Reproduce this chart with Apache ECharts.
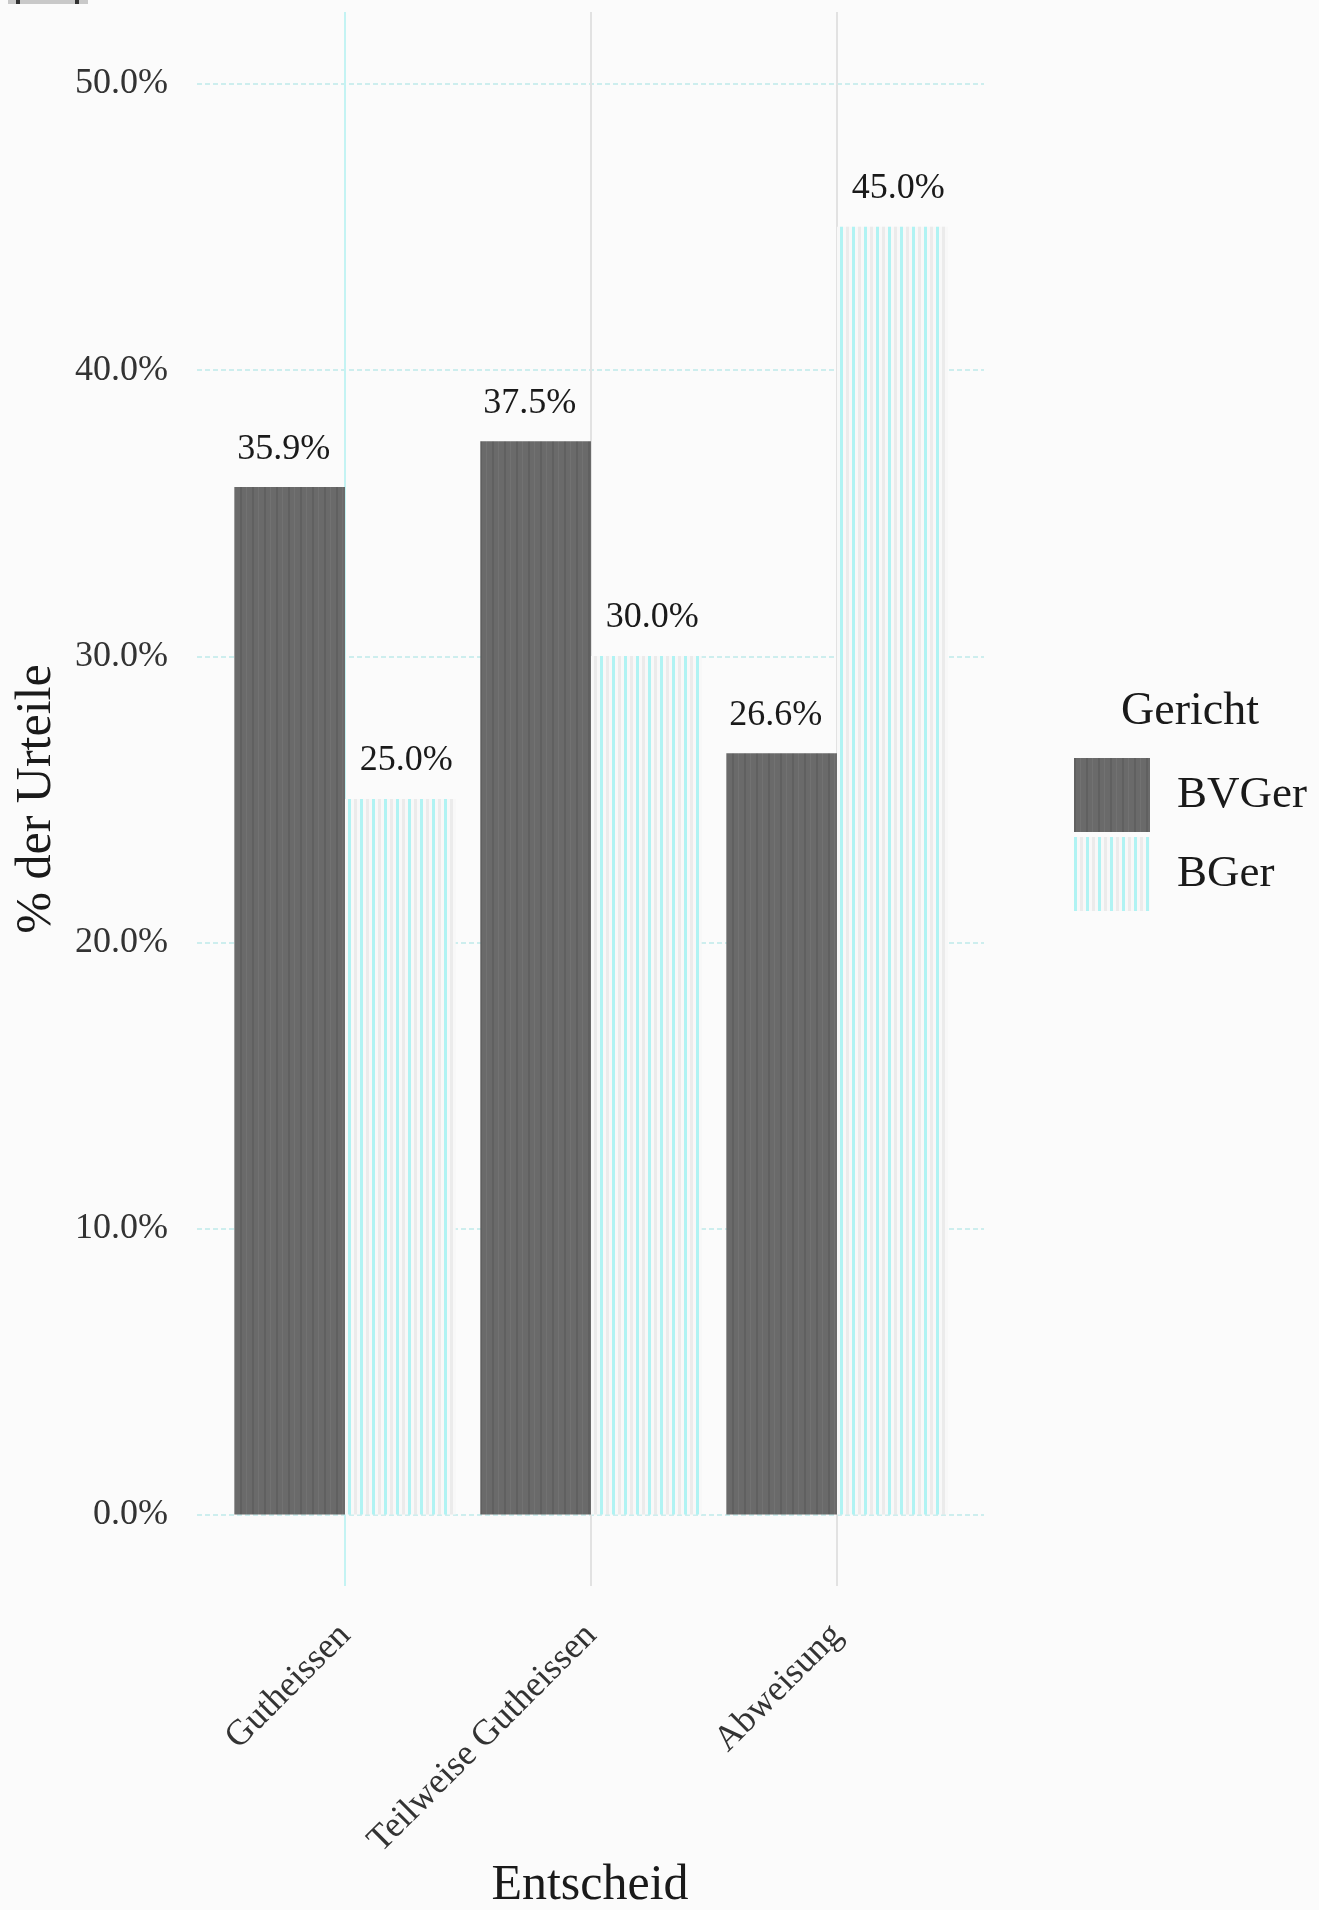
<!DOCTYPE html>
<html>
<head>
<meta charset="utf-8">
<script src="https://cdn.jsdelivr.net/npm/echarts@6/dist/echarts.min.js"></script>
<style>
  html, body { margin: 0; padding: 0; background: #fbfbfb; }
  #chart { width: 1319px; height: 1910px; }
</style>
</head>
<body>
<div id="chart"></div>
<script>
// ---- data ----
const categories = ['Gutheissen', 'Teilweise Gutheissen', 'Abweisung'];
const seriesNames = ['BVGer', 'BGer'];
const bvgerValues = [35.9, 37.5, 26.6];
const bgerValues = [25.0, 30.0, 45.0];
const yTickMin = 0, yTickMax = 50, yTickStep = 10;
const xTitle = 'Entscheid';
const yTitle = '% der Urteile';
const legendTitle = 'Gericht';

// ---- styles ----
const FONT = '"Liberation Serif", "DejaVu Serif", serif';

function stripePattern(period, base, stripes) {
  const c = document.createElement('canvas');
  c.width = period; c.height = 4;
  const ctx = c.getContext('2d');
  ctx.fillStyle = base;
  ctx.fillRect(0, 0, period, 4);
  stripes.forEach(s => { ctx.fillStyle = s[2]; ctx.fillRect(s[0], 0, s[1], 4); });
  return { image: c, repeat: 'repeat' };
}
const darkFill = stripePattern(12, '#6a6a6a', [[0, 2, '#606060'], [6, 1, '#727272']]);
const lightFill = stripePattern(12, '#f8f8f8', [[0, 3, '#b0f3f3'], [6, 3, '#ebebeb']]);

const pct = v => v.toFixed(1) + '%';

const chart = echarts.init(document.getElementById('chart'), null, { renderer: 'canvas' });
chart.setOption({
  backgroundColor: '#fbfbfb',
  animation: false,
  title: [{
    text: legendTitle, left: 1116, top: 684,
    textStyle: { fontFamily: FONT, fontSize: 46, fontWeight: 'normal', color: '#1a1a1a' }
  }],
  legend: {
    data: seriesNames,
    orient: 'vertical', left: 1069, top: 753,
    itemWidth: 76, itemHeight: 74, itemGap: 5, icon: 'rect',
    textStyle: { fontFamily: FONT, fontSize: 45, color: '#1a1a1a', padding: [0, 0, 0, 22] }
  },
  grid: [
    { left: 197, top: 84, width: 787, height: 1431, containLabel: false, outerBoundsMode: 'none' },
    { left: 222, top: 12, width: 738, height: 1574, containLabel: false, outerBoundsMode: 'none' }
  ],
  xAxis: [
    { gridIndex: 0, type: 'value', min: 0, max: 1, show: false },
    {
      gridIndex: 1, type: 'category', data: categories,
      axisLine: { show: false }, axisTick: { show: false }, splitLine: { show: false },
      axisLabel: { rotate: 45, margin: 44, fontFamily: FONT, fontSize: 36, color: '#333333' }
    }
  ],
  yAxis: [
    {
      gridIndex: 0, type: 'value', min: yTickMin, max: yTickMax, interval: yTickStep,
      axisLine: { show: false }, axisTick: { show: false },
      axisLabel: { formatter: v => pct(v), margin: 29, fontFamily: FONT, fontSize: 36, color: '#333333' },
      splitLine: { lineStyle: { color: '#cdeeee', type: [5, 3], width: 2 } }
    },
    { gridIndex: 1, type: 'value', min: -2.5, max: 52.5, show: false, splitLine: { show: false } }
  ],
  series: [
    {
      name: '_grid', type: 'line', xAxisIndex: 1, yAxisIndex: 1, data: [], z: 1,
      markLine: {
        z: 1, silent: true, symbol: ['none', 'none'], label: { show: false },
        data: categories.map((c, i) => ({
          xAxis: i,
          lineStyle: { color: i === 0 ? '#c4f3f3' : '#e2e2e2', width: 2, type: 'solid' }
        }))
      }
    },
    {
      name: seriesNames[0], type: 'bar', xAxisIndex: 1, yAxisIndex: 1, z: 3,
      data: bvgerValues, barWidth: '45%', barGap: '0%',
      itemStyle: { color: darkFill },
      label: { show: true, position: 'top', distance: 20, offset: [-6, 0], formatter: p => pct(p.value),
        fontFamily: FONT, fontSize: 36, color: '#1a1a1a' }
    },
    {
      name: seriesNames[1], type: 'bar', xAxisIndex: 1, yAxisIndex: 1, z: 3,
      data: bgerValues, barWidth: '45%', barGap: '0%',
      itemStyle: { color: lightFill },
      label: { show: true, position: 'top', distance: 20, offset: [6, 0], formatter: p => pct(p.value),
        fontFamily: FONT, fontSize: 36, color: '#1a1a1a' }
    }
  ],
  graphic: [
    { type: 'rect', left: 8, top: 0, shape: { width: 80, height: 4 }, style: { fill: '#c9c9c9' }, silent: true },
    { type: 'rect', left: 16, top: 0, shape: { width: 4, height: 4 }, style: { fill: '#333333' }, silent: true },
    { type: 'rect', left: 75, top: 0, shape: { width: 4, height: 4 }, style: { fill: '#333333' }, silent: true },
    {
      type: 'text', x: 590, y: 1886, silent: true,
      style: { text: xTitle, fontFamily: FONT, fontSize: 50, fill: '#1a1a1a',
        align: 'center', verticalAlign: 'middle', textAlign: 'center', textVerticalAlign: 'middle' }
    },
    {
      type: 'text', x: 37, y: 799, rotation: Math.PI / 2, silent: true,
      style: { text: yTitle, fontFamily: FONT, fontSize: 50, fill: '#1a1a1a',
        align: 'center', verticalAlign: 'middle', textAlign: 'center', textVerticalAlign: 'middle' }
    }
  ]
});
</script>
</body>
</html>
